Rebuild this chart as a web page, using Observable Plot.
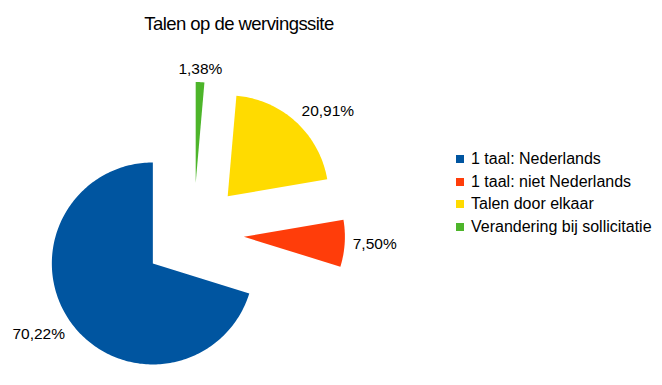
<!DOCTYPE html>
<html>
<head>
<meta charset="utf-8">
<script src="https://cdn.jsdelivr.net/npm/d3@7"></script>
<script src="https://cdn.jsdelivr.net/npm/@observablehq/plot@0.6"></script>
<style>
  body { margin: 0; background: #fff; font-family: "Liberation Sans", Arial, sans-serif; }
  #wrap { position: relative; width: 662px; height: 385px; overflow: hidden; }
  #title { position: absolute; left: 0; top: 0; width: 478px; height: 42px; text-align: center;
           font-size: 18.5px; line-height: 19px; letter-spacing: -0.55px; padding-top: 14px;
           box-sizing: border-box; color: #000; }
  #chart { position: absolute; left: 0; top: 42px; }
  #legend { position: absolute; left: 456px; top: 148px; font-size: 16px; color: #000; }
  .row { display: flex; align-items: center; height: 22.5px; }
  .sw { width: 8px; height: 8px; margin-right: 7px; }
</style>
</head>
<body>
<div id="wrap">
  <div id="title">Talen op de wervingssite</div>
  <div id="chart"></div>
  <div id="legend"></div>
</div>
<script>
const categories = ["1 taal: Nederlands", "1 taal: niet Nederlands", "Talen door elkaar", "Verandering bij sollicitatie"];
const values = [70.22, 7.50, 20.91, 1.38];
const labels = ["70,22%", "7,50%", "20,91%", "1,38%"];
const colors = ["#0055a0", "#ff3d0a", "#ffdb00", "#4db52a"];

// layout
const W = 662, H = 343;
const cx = 193, cy = 191;     // pie centre in svg pixels
const R = 101;                // pixels per unit (pie radius = 1)
const explode = 0.5;          // explode offset (in radii)
const labelDist = 1.58;       // label anchor distance (in radii)

// slices drawn clockwise from 12 o'clock in reverse category order
const total = d3.sum(values);
const order = [3, 2, 1, 0];
let acc = 0;
const slices = order.map(i => {
  const a0 = acc / total * 2 * Math.PI;
  acc += values[i];
  const a1 = acc / total * 2 * Math.PI;
  const mid = (a0 + a1) / 2;
  const ox = explode * Math.sin(mid), oy = explode * Math.cos(mid);
  const n = Math.max(4, Math.ceil((a1 - a0) / 0.02));
  const pts = [{x: ox, y: oy}];
  for (let k = 0; k <= n; k++) {
    const a = a0 + (a1 - a0) * k / n;
    pts.push({x: ox + Math.sin(a), y: oy + Math.cos(a)});
  }
  pts.push({x: ox, y: oy});
  const dx = Math.sin(mid), dy = Math.cos(mid);
  return {
    name: categories[i], color: colors[i], label: labels[i], pts,
    lx: labelDist * dx, ly: labelDist * dy,
    textAnchor: dx > 0.3 ? "start" : dx < -0.3 ? "end" : "middle",
    lineAnchor: dy > 0.3 ? "bottom" : dy < -0.3 ? "top" : "middle"
  };
});

const marks = [];
for (const s of slices) {
  marks.push(Plot.line(s.pts, {x: "x", y: "y", fill: s.color, stroke: "none", curve: "linear"}));
}
for (const s of slices) {
  marks.push(Plot.text([s], {x: "lx", y: "ly", text: "label", textAnchor: s.textAnchor,
    lineAnchor: s.lineAnchor, fontSize: 15.5, fill: "#000"}));
}

const chart = Plot.plot({
  width: W, height: H,
  margin: 0,
  x: {domain: [-cx / R, (W - cx) / R], axis: null},
  y: {domain: [-(H - cy) / R, cy / R], axis: null},
  style: {fontFamily: "'Liberation Sans', Arial, sans-serif", background: "transparent"},
  marks
});
document.getElementById("chart").appendChild(chart);

const legend = document.getElementById("legend");
categories.forEach((c, i) => {
  const row = document.createElement("div");
  row.className = "row";
  const sw = document.createElement("div");
  sw.className = "sw";
  sw.style.background = colors[i];
  const t = document.createElement("span");
  t.textContent = c;
  row.appendChild(sw); row.appendChild(t);
  legend.appendChild(row);
});
</script>
</body>
</html>
